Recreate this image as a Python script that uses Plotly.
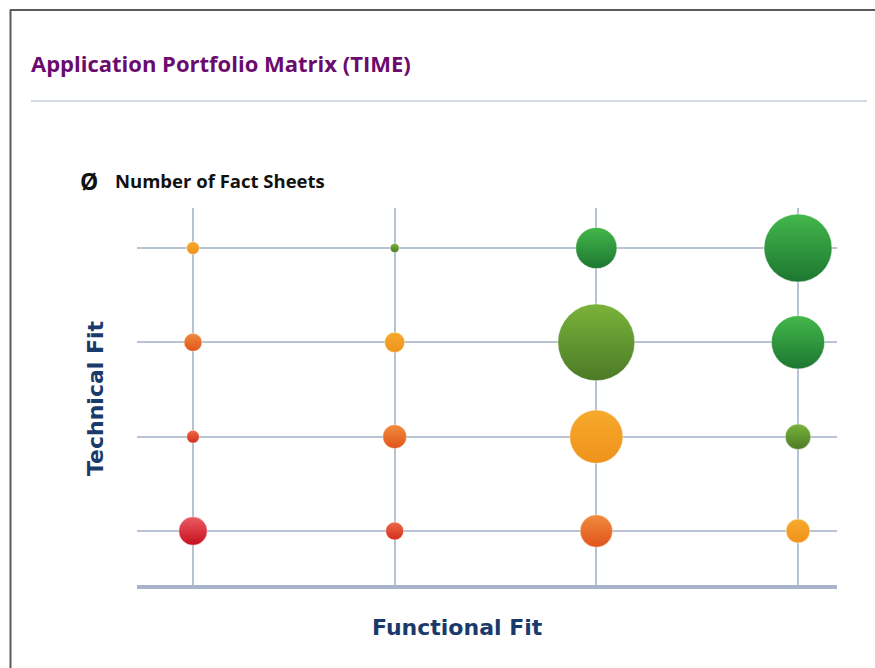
import plotly.graph_objects as go

# ---------------- data ----------------
functional_levels = [1, 2, 3, 4]
technical_levels = [1, 2, 3, 4]

bubble_functional = [1, 2, 3, 4, 1, 2, 3, 4, 1, 2, 3, 4, 1, 2, 3, 4]
bubble_technical = [4, 4, 4, 4, 3, 3, 3, 3, 2, 2, 2, 2, 1, 1, 1, 1]
fact_sheet_counts = [2, 1, 21, 57, 4, 5, 73, 35, 2, 7, 35, 8, 10, 4, 13, 7]
fit_class = [
    "amber", "olive", "green", "green",
    "orange", "amber", "olive", "green",
    "vermilion", "orange", "amber", "olive",
    "red", "vermilion", "orange", "amber",
]

# ---------------- style ----------------
W, H = 875, 668
PL, PR, PT, PB = 137, 837, 208, 585  # plot area in px

palette = {  # (top colour, bottom colour)
    "green": ("#43b84b", "#1d7631"),
    "olive": ("#7ab33b", "#4b7a25"),
    "amber": ("#f6aa2c", "#ef921b"),
    "orange": ("#f08c3e", "#e0531a"),
    "vermilion": ("#ee6a48", "#d22d1c"),
    "red": ("#eb5c64", "#c50f1c"),
}
top_colors = [palette[c][0] for c in fit_class]
bottom_colors = [palette[c][1] for c in fit_class]


def px_x(x):
    return (x - PL) / (PR - PL)


def px_y(y):
    return (PB - y) / (PB - PT)


# x: level 1 at px 193, level 4 at px 798 ; y: level 1 at px 531, level 4 at px 248
xstep = (798 - 193) / 3
ystep = (531 - 248) / 3
xrange_ = [1 - (193 - PL) / xstep, 4 + (PR - 798) / xstep]
yrange_ = [1 - (PB - 531) / ystep, 4 + (248 - PT) / ystep]

fig = go.Figure()
fig.add_trace(go.Scatter(
    x=bubble_functional,
    y=bubble_technical,
    mode="markers",
    marker=dict(
        size=fact_sheet_counts,
        sizemode="area",
        sizeref=1 / 40.5,
        color=top_colors,
        gradient=dict(type="vertical", color=bottom_colors),
        line=dict(color="rgba(255,255,255,0.45)", width=1),
        opacity=1,
    ),
    hovertemplate="Functional Fit %{x}<br>Technical Fit %{y}<br>Fact Sheets %{marker.size}<extra></extra>",
    showlegend=False,
))

grid_col = "#b7c2d2"
fig.update_xaxes(
    range=xrange_, tickvals=functional_levels, showticklabels=False, ticks="",
    showgrid=True, gridcolor=grid_col, gridwidth=1.5, zeroline=False,
    showline=True, linecolor="#a8b4c7", linewidth=4, fixedrange=True,
)
fig.update_yaxes(
    range=yrange_, tickvals=technical_levels, showticklabels=False, ticks="",
    showgrid=True, gridcolor=grid_col, gridwidth=1.5, zeroline=False,
    showline=False, fixedrange=True,
)

shapes = [
    # outer frame (left and top)
    dict(type="line", xref="paper", yref="paper", x0=px_x(10.5), x1=px_x(10.5),
         y0=px_y(9.5), y1=px_y(H + 5), line=dict(color="#5a5a5a", width=2)),
    dict(type="line", xref="paper", yref="paper", x0=px_x(10), x1=px_x(W + 5),
         y0=px_y(10), y1=px_y(10), line=dict(color="#5a5a5a", width=2)),
    # separator under title
    dict(type="line", xref="paper", yref="paper", x0=px_x(31), x1=px_x(867),
         y0=px_y(101), y1=px_y(101), line=dict(color="#c8d1dd", width=1.5)),
]

annotations = [
    dict(text="<b>Application Portfolio Matrix (TIME)</b>", xref="paper", yref="paper",
         x=px_x(29), y=px_y(63), xanchor="left", yanchor="middle", showarrow=False,
         font=dict(family="Open Sans, sans-serif", size=22, color="#6b0b6e")),
    dict(text="<b>Ø</b>", xref="paper", yref="paper",
         x=px_x(78), y=px_y(181), xanchor="left", yanchor="middle", showarrow=False,
         font=dict(family="Open Sans, sans-serif", size=23, color="#111111")),
    dict(text="<b>Number of Fact Sheets</b>", xref="paper", yref="paper",
         x=px_x(113), y=px_y(181), xanchor="left", yanchor="middle", showarrow=False,
         font=dict(family="Open Sans, sans-serif", size=18.5, color="#111111")),
    dict(text="<b>Technical Fit</b>", xref="paper", yref="paper", textangle=-90,
         x=px_x(95), y=px_y(398), xanchor="center", yanchor="middle", showarrow=False,
         font=dict(family="DejaVu Sans, sans-serif", size=22, color="#1b3a6c")),
    dict(text="<b>Functional Fit</b>", xref="paper", yref="paper",
         x=px_x(457), y=px_y(627), xanchor="center", yanchor="middle", showarrow=False,
         font=dict(family="DejaVu Sans, sans-serif", size=22, color="#1b3a6c")),
]

fig.update_layout(
    width=W, height=H,
    margin=dict(l=PL, r=W - PR, t=PT, b=H - PB, pad=0),
    paper_bgcolor="white", plot_bgcolor="white",
    shapes=shapes, annotations=annotations,
    hovermode="closest",
)

fig.write_html("out.html")
